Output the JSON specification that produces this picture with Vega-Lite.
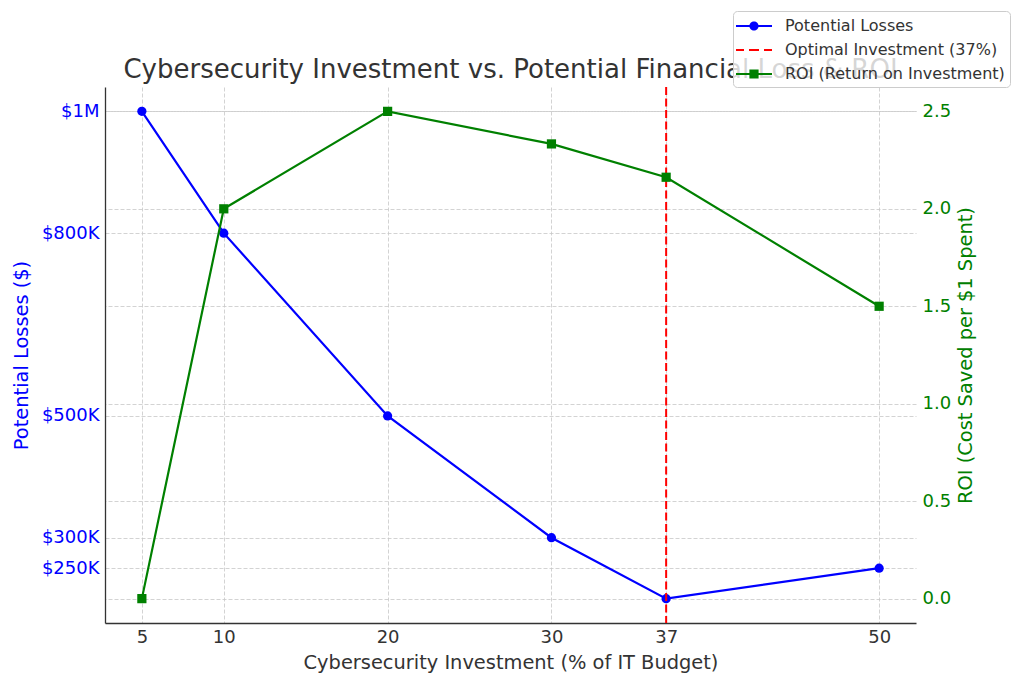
{
  "$schema": "https://vega.github.io/schema/vega-lite/v6.json",
  "width": 811,
  "height": 536,
  "autosize": "none",
  "padding": {"left": 105, "top": 87, "right": 108, "bottom": 63},
  "background": "white",
  "config": {
    "font": "DejaVu Sans",
    "view": {"stroke": null},
    "axis": {
      "labelFont": "DejaVu Sans",
      "titleFont": "DejaVu Sans",
      "labelFontSize": 18,
      "titleFontSize": 19.4,
      "titleFontWeight": "normal",
      "gridColor": "#c8c8c8",
      "gridDash": [4, 2],
      "gridWidth": 0.8,
      "ticks": false,
      "labelColor": "#333333",
      "titleColor": "#333333",
      "domainColor": "#333333",
      "domainWidth": 1.3
    }
  },
  "title": {
    "text": "Cybersecurity Investment vs. Potential Financial Loss & ROI",
    "fontSize": 26,
    "font": "DejaVu Sans",
    "fontWeight": "normal",
    "color": "#333333",
    "anchor": "middle",
    "offset": -72
  },
  "datasets": {
    "losses": [
      {"investment": 5, "losses": 1000000},
      {"investment": 10, "losses": 800000},
      {"investment": 20, "losses": 500000},
      {"investment": 30, "losses": 300000},
      {"investment": 37, "losses": 200000},
      {"investment": 50, "losses": 250000}
    ],
    "roi": [
      {"investment": 5, "roi": 0.0},
      {"investment": 10, "roi": 2.0},
      {"investment": 20, "roi": 2.5},
      {"investment": 30, "roi": 2.333},
      {"investment": 37, "roi": 2.162},
      {"investment": 50, "roi": 1.5}
    ],
    "optimal": [
      {"investment": 37}
    ],
    "legend": [
      {"series": "Potential Losses"},
      {"series": "Optimal Investment (37%)"},
      {"series": "ROI (Return on Investment)"}
    ]
  },
  "layer": [
    {
      "data": {"name": "losses"},
      "encoding": {
        "x": {
          "field": "investment",
          "type": "quantitative",
          "scale": {"domain": [2.75, 52.25], "nice": false, "zero": false},
          "axis": {
            "values": [5, 10, 20, 30, 37, 50],
            "title": "Cybersecurity Investment (% of IT Budget)",
            "grid": true,
            "domain": true,
            "labelPadding": 5,
            "titlePadding": 7
          }
        },
        "y": {
          "field": "losses",
          "type": "quantitative",
          "scale": {"domain": [160000, 1040000], "nice": false, "zero": false},
          "axis": {
            "values": [250000, 300000, 500000, 800000, 1000000],
            "labelExpr": "datum.value >= 1000000 ? '$' + format(datum.value / 1000000, 'd') + 'M' : '$' + format(datum.value / 1000, 'd') + 'K'",
            "title": "Potential Losses ($)",
            "labelColor": "#0000ff",
            "titleColor": "#0000ff",
            "grid": true,
            "domain": true,
            "labelPadding": 6,
            "titlePadding": 10
          }
        }
      },
      "layer": [
        {"mark": {"type": "line", "color": "#0000ff", "strokeWidth": 2.2}},
        {"mark": {"type": "point", "filled": true, "shape": "circle", "size": 85, "opacity": 1, "color": "#0000ff"}}
      ]
    },
    {
      "data": {"name": "optimal"},
      "mark": {"type": "rule", "color": "#ff0000", "strokeWidth": 2, "strokeDash": [8, 3.5]},
      "encoding": {"x": {"field": "investment", "type": "quantitative"}}
    },
    {
      "data": {"name": "roi"},
      "encoding": {
        "x": {"field": "investment", "type": "quantitative"},
        "y": {
          "field": "roi",
          "type": "quantitative",
          "scale": {"domain": [-0.125, 2.625], "nice": false, "zero": false},
          "axis": {
            "orient": "right",
            "values": [0, 0.5, 1, 1.5, 2, 2.5],
            "format": ".1f",
            "title": "ROI (Cost Saved per $1 Spent)",
            "titleAngle": 270,
            "titleBaseline": "top",
            "labelColor": "#008000",
            "titleColor": "#008000",
            "grid": true,
            "domain": false,
            "labelPadding": 6,
            "titlePadding": 6
          }
        }
      },
      "layer": [
        {"mark": {"type": "line", "color": "#008000", "strokeWidth": 2.2}},
        {"mark": {"type": "point", "filled": true, "shape": "square", "size": 85, "opacity": 1, "color": "#008000"}}
      ]
    },
    {
      "data": {"name": "legend"},
      "mark": {"type": "point", "filled": true, "opacity": 0, "size": 1},
      "encoding": {
        "color": {
          "field": "series",
          "type": "nominal",
          "scale": {
            "domain": ["Potential Losses", "Optimal Investment (37%)", "ROI (Return on Investment)"],
            "range": ["#0000ff", "#ff0000", "#008000"]
          },
          "legend": {
            "title": null,
            "orient": "none",
            "legendX": 628,
            "legendY": -76,
            "zindex": 1,
            "fillColor": "rgba(255,255,255,0.8)",
            "strokeColor": "#cccccc",
            "cornerRadius": 4,
            "padding": 5,
            "labelFont": "DejaVu Sans",
            "labelFontSize": 16,
            "labelColor": "#333333",
            "labelLimit": 400,
            "symbolSize": 400,
            "symbolOffset": 6,
            "labelOffset": 21,
            "rowPadding": 6,
            "symbolOpacity": 1,
            "symbolStrokeWidth": 0
          }
        },
        "shape": {
          "field": "series",
          "type": "nominal",
          "scale": {
            "domain": ["Potential Losses", "Optimal Investment (37%)", "ROI (Return on Investment)"],
            "range": [
              "M-1.8,-0.11H1.8V0.11H-1.8ZM0.46,0A0.46,0.46 0 1 1 -0.46,0A0.46,0.46 0 1 1 0.46,0Z",
              "M-1.8,-0.11H-1V0.11H-1.8ZM-0.5,-0.11H0.5V0.11H-0.5ZM1,-0.11H1.8V0.11H1Z",
              "M-1.8,-0.11H1.8V0.11H-1.8ZM-0.46,-0.46H0.46V0.46H-0.46Z"
            ]
          },
          "legend": {
            "title": null,
            "orient": "none",
            "legendX": 628,
            "legendY": -76,
            "zindex": 1,
            "fillColor": "rgba(255,255,255,0.8)",
            "strokeColor": "#cccccc",
            "cornerRadius": 4,
            "padding": 5,
            "labelFont": "DejaVu Sans",
            "labelFontSize": 16,
            "labelColor": "#333333",
            "labelLimit": 400,
            "symbolSize": 400,
            "symbolOffset": 6,
            "labelOffset": 21,
            "rowPadding": 6,
            "symbolOpacity": 1,
            "symbolStrokeWidth": 0
          }
        }
      }
    }
  ],
  "resolve": {"scale": {"y": "independent"}, "axis": {"y": "independent"}}
}
